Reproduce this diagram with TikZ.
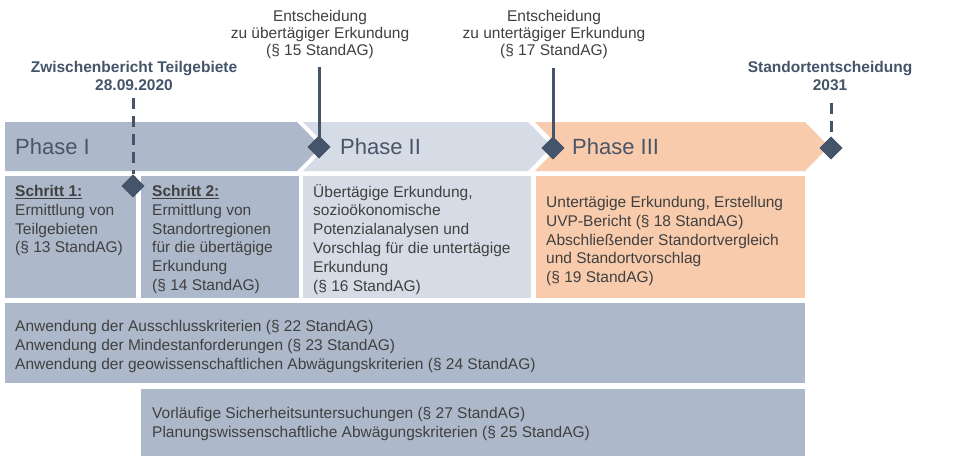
\documentclass[tikz,border=0pt]{standalone}
\usepackage{fontspec}
\setmainfont{Liberation Sans}
\usetikzlibrary{shapes.geometric}
\definecolor{blu}{HTML}{ADB9CA}
\definecolor{lblu}{HTML}{D6DCE5}
\definecolor{peach}{HTML}{F8CBAD}
\definecolor{dark}{HTML}{44546A}
\definecolor{txt}{HTML}{404040}
\definecolor{phtxt}{HTML}{4A5568}
\begin{document}
\begin{tikzpicture}[x=1pt,y=-1pt,
  boxtext/.style={anchor=north west, inner sep=0pt, align=left, text=txt, font=\fontsize{15.5}{18.8}\selectfont},
  toptext/.style={anchor=north, inner sep=0pt, align=center, text=txt, font=\fontsize{15.5}{17.2}\selectfont},
  boldtext/.style={anchor=north, inner sep=0pt, align=center, text=dark, font=\fontsize{15.5}{18}\selectfont\bfseries},
  phasetext/.style={anchor=west, inner sep=0pt, text=phtxt, font=\fontsize{22}{26}\selectfont},
  milestone/.style={diamond, fill=dark, inner sep=0pt, minimum width=23pt, minimum height=23pt},
  solidline/.style={draw=dark, line width=3pt},
  dashline/.style={draw=dark, line width=3pt, dash pattern=on 11pt off 7pt}
]
\useasboundingbox (0,0) rectangle (957,456);
\fill[white] (0,0) rectangle (957,456);
% chevrons
\fill[blu] (5,122) -- (297,122) -- (321,146.5) -- (297,171) -- (5,171) -- cycle;
\fill[lblu] (303,122) -- (528,122) -- (552,146.5) -- (528,171) -- (303,171) -- (327,146.5) -- cycle;
\fill[peach] (535,122) -- (805,122) -- (829,146.5) -- (805,171) -- (535,171) -- (559,146.5) -- cycle;
\node[phasetext] (ph1) at (15,147) {Phase I};
\node[phasetext] (ph2) at (340,147) {Phase II};
\node[phasetext] (ph3) at (572,147) {Phase III};
% step boxes
\fill[blu] (5,176) rectangle (136,298);
\fill[blu] (141,176) rectangle (299,298);
\fill[lblu] (303,176) rectangle (531,298);
\fill[peach] (536,176) rectangle (805,298);
\fill[blu] (5,303) rectangle (805,383);
\fill[blu] (141,389) rectangle (805,456);
\node[boxtext] (t1) at (15,185) {\underline{\textbf{Schritt 1:}}\\Ermittlung von\\Teilgebieten\\(§ 13 StandAG)};
\node[boxtext] (t2) at (152,185) {\underline{\textbf{Schritt 2:}}\\Ermittlung von\\Standortregionen\\für die übertägige\\Erkundung\\(§ 14 StandAG)};
\node[boxtext] (t3) at (313,184) {Übertägige Erkundung,\\sozioökonomische\\Potenzialanalysen und\\Vorschlag für die untertägige\\Erkundung\\(§ 16 StandAG)};
\node[boxtext] (t4) at (546,196) {Untertägige Erkundung, Erstellung\\UVP-Bericht (§ 18 StandAG)\\Abschließender Standortvergleich\\und Standortvorschlag\\(§ 19 StandAG)};
\node[boxtext] (t5) at (15,320) {Anwendung der Ausschlusskriterien (§ 22 StandAG)\\Anwendung der Mindestanforderungen (§ 23 StandAG)\\Anwendung der geowissenschaftlichen Abwägungskriterien (§ 24 StandAG)};
\node[boxtext] (t6) at (152,407) {Vorläufige Sicherheitsuntersuchungen (§ 27 StandAG)\\Planungswissenschaftliche Abwägungskriterien (§ 25 StandAG)};
% top labels
\node[toptext] (e15) at (320,10) {Entscheidung\\zu übertägiger Erkundung\\(§ 15 StandAG)};
\node[toptext] (e17) at (554,10) {Entscheidung\\zu untertägiger Erkundung\\(§ 17 StandAG)};
\node[boldtext] (zb) at (134,61) {Zwischenbericht Teilgebiete\\28.09.2020};
\node[boldtext] (se) at (830,61) {Standortentscheidung\\2031};
% milestones
\node[milestone] (m0) at (133,186) {};
\node[milestone] (m1) at (319,147) {};
\node[milestone] (m2) at (553,148) {};
\node[milestone] (m3) at (831,148) {};
\coordinate (c15) at (319,67);
\coordinate (c17) at (553,68);
\coordinate (czb) at (133,98);
\coordinate (cse) at (831,103);
\draw[solidline] (c15) -- (m1.center);
\draw[solidline] (c17) -- (m2.center);
\draw[dashline] (czb) -- (m0.north);
\draw[dashline] (cse) -- (m3.north);
\node[milestone] at (m0) {};
\node[milestone] at (m1) {};
\node[milestone] at (m2) {};
\node[milestone] at (m3) {};
\end{tikzpicture}
\end{document}
